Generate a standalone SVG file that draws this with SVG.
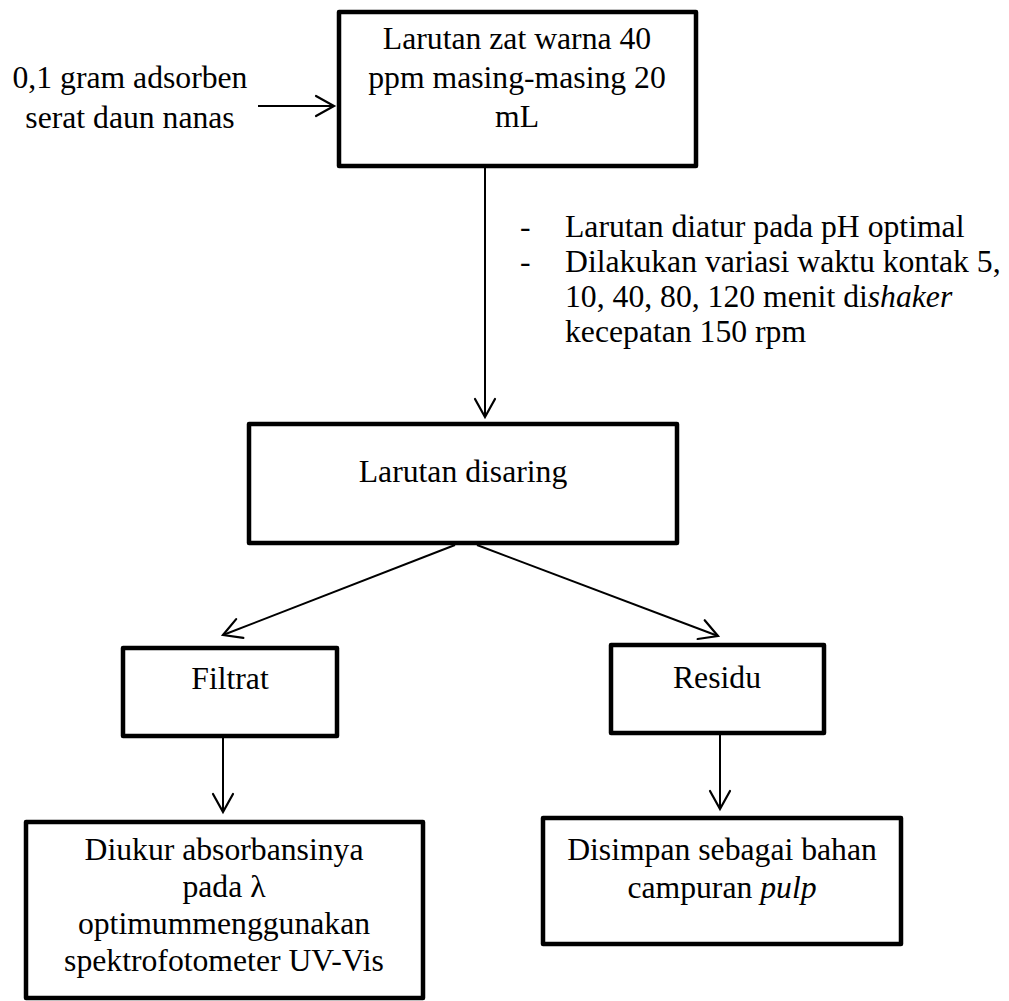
<svg xmlns="http://www.w3.org/2000/svg" width="1009" height="1001" viewBox="0 0 1009 1001">
  <defs>
    <style>
      .box { fill: #ffffff; stroke: #000000; stroke-width: 4.5; stroke-linejoin: round; }
      .txt { font-family: 'Liberation Serif', Tinos, 'Times New Roman', Times, 'DejaVu Serif', serif; font-size: 31.7px; fill: #000000; }
      .mid { text-anchor: middle; }
      .it { font-style: italic; }
      .link { fill: none; stroke: #000000; stroke-width: 2; marker-end: url(#open); }
    </style>
    <marker id="open" markerUnits="userSpaceOnUse" markerWidth="26" markerHeight="26" viewBox="-22 -13 26 26" refX="0" refY="0" orient="auto" overflow="visible">
      <path d="M -18 -10 L 0 0 L -18 10" fill="none" stroke="#000000" stroke-width="2.2" stroke-linecap="round" stroke-linejoin="miter"/>
    </marker>
  </defs>
  <rect width="1009" height="1001" fill="#ffffff"/>

  <!-- input label on the left -->
  <g id="input-label">
    <text class="txt mid" x="130" y="88">0,1 gram adsorben</text>
    <text class="txt mid" x="130" y="128">serat daun nanas</text>
  </g>

  <!-- process steps -->
  <g id="larutan-zat-warna">
    <rect class="box" x="339" y="12" width="357" height="154"/>
    <text class="txt mid" x="517" y="49">Larutan zat warna 40</text>
    <text class="txt mid" x="517" y="88">ppm masing-masing 20</text>
    <text class="txt mid" x="517" y="127">mL</text>
  </g>

  <g id="kondisi">
    <text class="txt" x="520" y="237">-</text>
    <text class="txt" x="565" y="237">Larutan diatur pada pH optimal</text>
    <text class="txt" x="520" y="272">-</text>
    <text class="txt" x="565" y="272">Dilakukan variasi waktu kontak 5,</text>
    <text class="txt" x="565" y="307">10, 40, 80, 120 menit di<tspan class="it">shaker</tspan></text>
    <text class="txt" x="565" y="342">kecepatan 150 rpm</text>
  </g>

  <g id="larutan-disaring">
    <rect class="box" x="249" y="424" width="428" height="119"/>
    <text class="txt mid" x="463" y="482">Larutan disaring</text>
  </g>

  <g id="filtrat">
    <rect class="box" x="123" y="648" width="214" height="88"/>
    <text class="txt mid" x="230" y="689">Filtrat</text>
  </g>

  <g id="residu">
    <rect class="box" x="611" y="645" width="213" height="88"/>
    <text class="txt mid" x="717" y="688">Residu</text>
  </g>

  <g id="pengukuran">
    <rect class="box" x="26" y="822" width="397" height="176"/>
    <text class="txt mid" x="224" y="860">Diukur absorbansinya</text>
    <text class="txt mid" x="224" y="897">pada λ</text>
    <text class="txt mid" x="224" y="934">optimummenggunakan</text>
    <text class="txt mid" x="224" y="971">spektrofotometer UV-Vis</text>
  </g>

  <g id="penyimpanan">
    <rect class="box" x="543" y="818" width="358" height="126"/>
    <text class="txt mid" x="722" y="860">Disimpan sebagai bahan</text>
    <text class="txt mid" x="722" y="898">campuran <tspan class="it">pulp</tspan></text>
  </g>

  <!-- connectors -->
  <g id="connectors">
    <line class="link" x1="258" y1="106" x2="334" y2="106"/>
    <line class="link" x1="485" y1="168" x2="485" y2="417"/>
    <line class="link" x1="455" y1="545" x2="223" y2="635"/>
    <line class="link" x1="477" y1="545" x2="718" y2="636"/>
    <line class="link" x1="223" y1="738" x2="223" y2="812"/>
    <line class="link" x1="720" y1="735" x2="720" y2="809"/>
  </g>
</svg>
